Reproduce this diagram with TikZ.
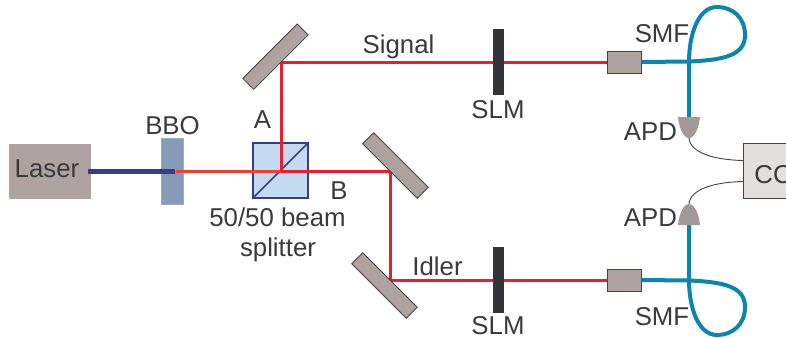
\documentclass[tikz,border=0pt]{standalone}
\usepackage{fontspec}
\setmainfont{Liberation Sans}
\usepackage{xcolor}
\usetikzlibrary{calc,positioning}
\definecolor{mygray}{RGB}{175,163,160}
\definecolor{myedge}{RGB}{70,66,66}
\definecolor{myink}{RGB}{58,58,62}
\definecolor{myred}{RGB}{237,28,46}
\definecolor{myorange}{RGB}{240,62,54}
\definecolor{mynavy}{RGB}{59,59,140}
\definecolor{myfiber}{RGB}{10,133,176}
\definecolor{mycube}{RGB}{195,218,240}
\definecolor{mybbo}{RGB}{132,156,181}
\definecolor{mydet}{RGB}{163,154,152}
\definecolor{myslm}{RGB}{51,51,56}

\tikzset{
  txt/.style={anchor=base, inner sep=0pt, text=myink, font=\fontsize{25.8bp}{30bp}\selectfont},
  mirror/.style={draw=myedge, line width=0.8bp, fill=mygray, minimum width=77bp, minimum height=15.5bp, inner sep=0pt},
  slm/.style={fill=myslm, minimum width=11bp, minimum height=66bp, inner sep=0pt},
  coupler/.style={draw=myedge, line width=1bp, fill=mygray, minimum width=34bp, minimum height=22bp, inner sep=0pt},
  redbeam/.style={myred, line width=3bp},
  fiber/.style={myfiber, line width=4bp},
  wire/.style={myedge, line width=0.9bp}
}

\begin{document}
\begin{tikzpicture}[x=1bp,y=-1bp]
  \useasboundingbox (0,0) rectangle (786,337);

  \node[fill=mygray, minimum width=82bp, minimum height=55bp, inner sep=0pt] (laser) at (50,171.5) {};
  \node[draw=mybbo!85!white, line width=0.8bp, fill=mybbo, minimum width=22bp, minimum height=66bp, inner sep=0pt] (bbo) at (172,171) {};
  \node[draw=mynavy, line width=1.6bp, fill=mycube, minimum width=55bp, minimum height=55bp, inner sep=0pt] (cube) at (280.5,170.5) {};
  \node[coupler] (fc1) at (624,62) {};
  \node[coupler] (fc2) at (624,280) {};
  \node[draw=myedge, line width=1bp, fill=mygray!35!white, minimum width=59bp, minimum height=54.5bp, inner sep=0pt] (cc) at (773,171) {};

  \coordinate (pumpin) at (88,171);
  \coordinate (pumpout) at (175,171);
  \coordinate (redin) at (176,171);
  \coordinate (turna) at (281,62);
  \coordinate (turnb) at (390,171);
  \coordinate (turnc) at (390,280);
  \coordinate (split) at (281,171);
  \coordinate (apda) at (689,138);
  \coordinate (apdb) at (689,204);
  \coordinate (cca) at (743.5,160.5);
  \coordinate (ccb) at (743.5,181.5);
  \coordinate (fibera) at (689,117);
  \coordinate (fiberb) at (689,225);

  \draw[mynavy, line width=1.6bp] (cube.south west) -- (cube.north east);

  % Beams
  \draw[mynavy, line width=5bp] (pumpin) -- (pumpout);
  \draw[myorange, line width=3bp] (redin) -- (split);
  \draw[redbeam] (split) -- (turnb) -- (turnc) -- (fc2.west);
  \draw[redbeam] (split) -- (turna) -- (fc1.west);

  \node[mirror, rotate=45] (m1) at (275.5,56.7) {};
  \node[mirror, rotate=-45] (m2) at (395.5,165.5) {};
  \node[mirror, rotate=-45] (m3) at (384.5,285.5) {};
  \node[slm] (slm1) at (498.5,62) {};
  \node[slm] (slm2) at (498.5,280) {};

  % Fibers
  \draw[fiber] (fc1.east) -- (689,61.5) .. controls (725,60) and (745,55) .. (745,35) .. controls (745,17) and (732,7) .. (717,7) .. controls (698,7) and (689,35) .. (689,62) -- (fibera);
  \draw[fiber] (fc2.east) -- (689,280.5) .. controls (725,282) and (745,287) .. (745,307) .. controls (745,325) and (732,335) .. (717,335) .. controls (698,335) and (689,307) .. (689,280) -- (fiberb);

  % Detectors
  \fill[mydet] (678,117) -- (700,117) .. controls (699,127) and (695,138) .. (apda) .. controls (683,138) and (679,127) .. (678,117) -- cycle;
  \fill[mydet] (678,225) -- (700,225) .. controls (699,215) and (695,204) .. (apdb) .. controls (683,204) and (679,215) .. (678,225) -- cycle;
  \draw[wire] (apda) .. controls (690,153) and (715,160) .. (cca);
  \draw[wire] (apdb) .. controls (690,189) and (715,182) .. (ccb);

  % Labels
  \node[txt] (tlaser) at (47,177) {Laser};
  \node[txt] (tbbo) at (172.5,134) {BBO};
  \node[txt] (ta) at (262.5,128) {A};
  \node[txt] (tb) at (339,199) {B};
  \node[txt] (tbs) at (277.5,226) {50/50 beam};
  \node[txt] (tsp) at (278,256) {splitter};
  \node[txt] (tsig) at (398.5,53) {Signal};
  \node[txt] (tidl) at (437.5,275.5) {Idler};
  \node[txt] (tslma) at (498,118) {SLM};
  \node[txt] (tslmb) at (498,334.5) {SLM};
  \node[txt] (tsmfa) at (662,42) {SMF};
  \node[txt] (tsmfb) at (662,325) {SMF};
  \node[txt] (tapda) at (650.5,140) {APD};
  \node[txt] (tapdb) at (650.5,226.5) {APD};
  \node[txt] (tcc) at (773,183) {CC};
\end{tikzpicture}
\end{document}
